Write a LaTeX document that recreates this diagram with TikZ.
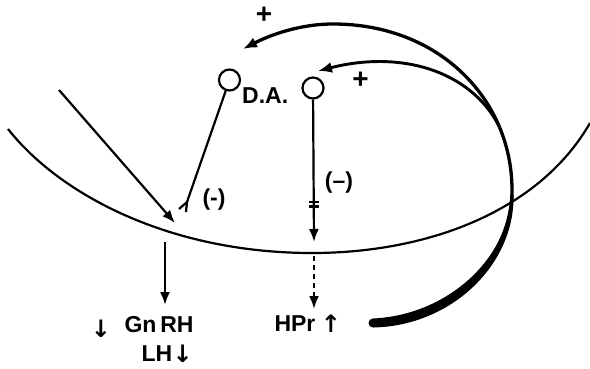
\documentclass[tikz,border=0pt]{standalone}
\usepackage{fontspec}
\setmainfont{Liberation Sans}
\newfontfamily\symfont{DejaVu Sans}
\usetikzlibrary{arrows.meta,positioning}
\tikzset{
  neuron/.style ={draw, circle, line width=2.2pt, minimum size=21pt, inner sep=0pt},
  lbl/.style    ={font=\fontsize{23}{25}\selectfont\bfseries, inner sep=0pt},
  sym/.style    ={font=\fontsize{24}{26}\symfont\bfseries, inner sep=0pt},
  plus/.style   ={font=\fontsize{28}{28}\selectfont\bfseries, inner sep=0pt},
  thin/.style   ={line width=2.2pt},
  arrow/.style  ={-{Latex[length=13pt,width=10pt]}, line width=2.2pt},
  feedback/.style={-{Latex[length=14pt,width=11pt]}, line width=3.3pt},
}
\begin{document}
\begin{tikzpicture}[x=1pt,y=-1pt]
  \useasboundingbox (0,0) rectangle (590,369);
  % floor of the ventricle
  \draw[thin] (8,129) .. controls (60,195) and (170,253) .. (312,253)
              .. controls (430,253) and (540,210) .. (590,123);
  % neurons
  \node[neuron] (da) at (229.5,80) {};
  \node[neuron] (tida) at (313,88) {};
  \node[lbl, anchor=west] (dalbl) at (242,95.5) {D.A.};
  % input arrow
  \coordinate (inp) at (59,90);
  \coordinate (inpEnd) at (175,223);
  \draw[arrow] (inp) -- (inpEnd);
  % DA axon with synapse
  \coordinate (syn) at (187,202);
  \draw[thin] (da) -- (syn);
  \draw[thin] (syn) -- ++(-8,7) (syn) -- ++(-1,10);
  \node[lbl] (inhA) at (214,200) {(-)};
  % GnRH output
  \coordinate (gtop) at (165,242);
  \coordinate (gend) at (165,305);
  \draw[arrow] (gtop) -- (gend);
  \node[lbl] (gnrh) at (159,325) {Gn\,RH};
  \node[sym, left=13pt of gnrh, yshift=-4pt] {↓};
  \node[lbl] (lh) at (157,354) {LH};
  \node[sym, right=0pt of lh] {↓};
  % second axon, blocked
  \coordinate (tend) at (314,242);
  \draw[arrow] (tida) -- (tend);
  \draw[thin] (309,202) -- (319,202) (309,206.5) -- (319,206.5);
  \node[lbl] (inhB) at (339,182.5) {(–)};
  \coordinate (dtop) at (314,256);
  \coordinate (dend) at (314,309);
  \draw[arrow, dash pattern=on 5pt off 4pt] (dtop) -- (dend);
  \node[lbl] (hpr) at (295,324) {HPr};
  \node[sym, right=5pt of hpr] {↑};
  % feedback loop
  \coordinate (loopstart) at (373,323);
  \coordinate (loopmid) at (512,190);
  \coordinate (looptop) at (333,24);
  \coordinate (loopend) at (243,49);
  \fill (373,318.5) .. controls (448,315) and (509,258) .. (510.5,195)
        -- (513.5,195) .. controls (515,264) and (452,326) .. (373,327.5) -- cycle;
  \fill (loopstart) circle (4.5pt);
  \draw[feedback] (loopstart) .. controls (450,320) and (512,260) .. (loopmid)
        .. controls (512,100) and (440,24) .. (looptop)
        .. controls (300,24) and (270,35) .. (loopend);
  \coordinate (branch) at (499,126);
  \coordinate (tidaIn) at (318,71);
  \draw[feedback, line width=2.9pt] (branch) .. controls (470,70) and (400,50) .. (tidaIn);
  \node[plus] at (264,15) {+};
  \node[plus] at (360.5,80) {+};
\end{tikzpicture}
\end{document}
